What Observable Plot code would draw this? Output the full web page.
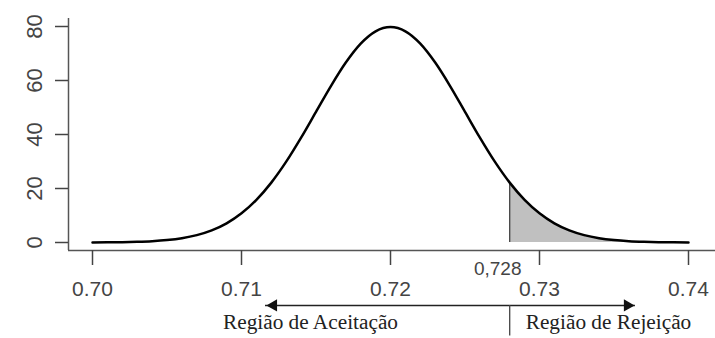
<!DOCTYPE html>
<html><head><meta charset="utf-8">
<script src="https://cdn.jsdelivr.net/npm/d3@7"></script>
<script src="https://cdn.jsdelivr.net/npm/@observablehq/plot@0.6"></script>
<style>body{margin:0;background:#fff}</style>
</head><body><div id="chart"></div>
<script>
const xs = [0.700,0.701,0.702,0.703,0.704,0.705,0.706,0.707,0.708,0.709,
            0.710,0.711,0.712,0.713,0.714,0.715,0.716,0.717,0.718,0.719,
            0.720,0.721,0.722,0.723,0.724,0.725,0.726,0.727,0.728,0.729,
            0.730,0.731,0.732,0.733,0.734,0.735,0.736,0.737,0.738,0.739,0.740];
const density = [0.03,0.06,0.12,0.25,0.48,0.89,1.58,2.72,4.48,7.09,
                 10.80,15.79,22.18,29.94,38.84,48.39,57.94,66.64,73.65,78.21,
                 79.79,78.21,73.65,66.64,57.94,48.39,38.84,29.94,22.18,15.79,
                 10.80,7.09,4.48,2.72,1.58,0.89,0.48,0.25,0.12,0.06,0.03];
const xTicks = [0.70,0.71,0.72,0.73,0.74];
const yTicks = [0,20,40,60,80];
const critical = 0.728;
const criticalLabel = "0,728";
const regionLabels = ["Região de Aceitação","Região de Rejeição"];

const data = xs.map((x, i) => ({x, y: density[i]}));
const tail = data.filter(d => d.x >= critical - 1e-9);
const critY = tail[0].y;

const xDomain = [0.698389, 0.741812];
const yDomain = [-2.963, 82.963];
const yArrow = -23.3, yDividerEnd = -34.6, yRegionText = -29.5;
const arrowLeft = 0.711611, arrowRight = 0.73644, acceptMid = 0.71463;
const axisColor = "#555";
const serif = "Liberation Serif, Times New Roman, serif";

const chart = Plot.plot({
  width: 715, height: 338,
  marginLeft: 68, marginRight: 0, marginTop: 18, marginBottom: 88,
  x: {domain: xDomain, label: null},
  y: {domain: yDomain, label: null},
  style: {fontFamily: "Liberation Sans, Arial, sans-serif", background: "#fff"},
  marks: [
    Plot.areaY(tail, {x: "x", y: "y", fill: "#c0c0c0", curve: "monotone-x"}),
    Plot.ruleX([critical], {y1: 0, y2: critY, stroke: "#444", strokeWidth: 1.3}),
    Plot.line(data, {x: "x", y: "y", stroke: "#000", strokeWidth: 2.5, curve: "monotone-x"}),
    Plot.ruleX([xDomain[0]], {stroke: axisColor, strokeWidth: 1.5}),
    Plot.ruleY([yDomain[0]], {stroke: axisColor, strokeWidth: 1.5}),
    Plot.axisX(xTicks, {tickSize: 15, tickPadding: 16, tickFormat: d3.format(".2f"),
      fontSize: 21, color: "#444", strokeWidth: 1.5, label: null}),
    Plot.axisY(yTicks, {tickSize: 13, tickRotate: -90, tickPadding: 14,
      fontSize: 22, color: "#444", strokeWidth: 1.5, label: null}),
    Plot.text([criticalLabel], {x: critical, frameAnchor: "bottom", dy: 18, dx: -12,
      fontSize: 19, fill: "#444", lineAnchor: "middle"}),
    Plot.ruleY([yArrow], {x1: arrowLeft, x2: arrowRight, stroke: "#222", strokeWidth: 1.5}),
    Plot.dot([arrowLeft], {x: d => d, y: yArrow, symbol: "triangle", r: 4.6, rotate: -90,
      fill: "#111", dx: 8}),
    Plot.dot([arrowRight], {x: d => d, y: yArrow, symbol: "triangle", r: 4.6, rotate: 90,
      fill: "#111", dx: -8}),
    Plot.ruleX([critical], {y1: yArrow, y2: yDividerEnd, stroke: "#444", strokeWidth: 1.3}),
    Plot.text([regionLabels[0]], {x: acceptMid, y: yRegionText, fontFamily: serif,
      fontSize: 21.3, fill: "#222", textAnchor: "middle", lineAnchor: "middle"}),
    Plot.text([regionLabels[1]], {x: critical, y: yRegionText, dx: 16, fontFamily: serif,
      fontSize: 21.3, fill: "#222", textAnchor: "start", lineAnchor: "middle"})
  ]
});
document.getElementById("chart").appendChild(chart);
</script>
</body></html>
